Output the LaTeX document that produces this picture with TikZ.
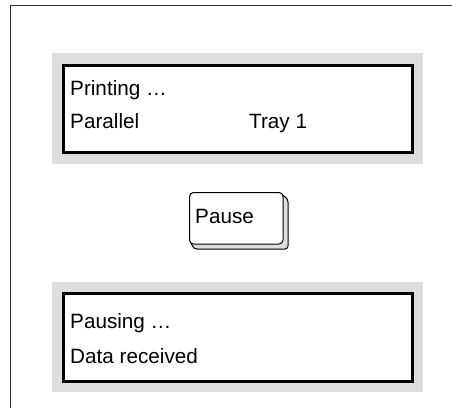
\documentclass[tikz,border=0pt]{standalone}
\usepackage{fontspec}
\setmainfont{Liberation Sans}
\definecolor{panelgrey}{HTML}{DEDEDE}
\definecolor{framegrey}{HTML}{333333}
\begin{document}
\begin{tikzpicture}[x=1pt,y=-1pt,
  panel/.style={fill=panelgrey,draw=none},
  screen/.style={fill=white,draw=black,line width=2.6pt},
  lcd/.style={anchor=base west,inner sep=0pt,font=\fontsize{20.7}{24}\selectfont},
  keyback/.style={fill=panelgrey,draw=black,line width=1pt,rounded corners=3pt,line join=round},
  keyfront/.style={fill=white,draw=black,line width=1pt,rounded corners=4pt}]
\useasboundingbox (0,0) rectangle (452,408);
% outer frame
\draw[framegrey,line width=1.4pt] (10.5,408) coordinate (fbl) -- (10.5,5.5) coordinate (ftl) -- (452,5.5) coordinate (ftr);
% top display
\fill[panel] (52,53) rectangle (423,164);
\draw[screen] (63.5,65.5) rectangle (412.5,152.5);
\node[lcd] (t1) at (70,95) {Printing \dots};
\node[lcd] (t2) at (70,128) {Parallel};
\node[lcd] (t3) at (249,128) {Tray 1};
% pause key
\draw[keyback] (279,192.5) -- (288,199) -- (288,249) -- (194,249) -- (189.5,240) -- cycle;
\draw[keyfront] (189.5,192.5) rectangle (283,244);
\node[lcd] (k) at (195,223) {Pause};
% bottom display
\fill[panel] (52,282) rectangle (423,392);
\draw[screen] (63.5,293.5) rectangle (412.5,381.5);
\node[lcd] (b1) at (70,328) {Pausing \dots};
\node[lcd] (b2) at (70,363) {Data received};
\end{tikzpicture}
\end{document}
